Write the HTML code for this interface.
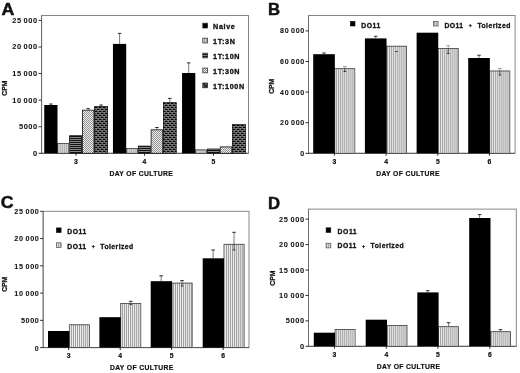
<!DOCTYPE html><html><head><meta charset="utf-8"><title>Figure</title><style>html,body{margin:0;padding:0;background:#fff;}body{width:520px;height:373px;overflow:hidden}svg{display:block}text{font-family:"Liberation Sans", sans-serif;font-weight:bold;fill:#111}</style></head><body>
<svg width="520" height="373" viewBox="0 0 520 373">

<defs>
<pattern id="vs" width="2" height="4" patternUnits="userSpaceOnUse"><rect width="2" height="4" fill="#e6e6e6"/><rect x="0.1" width="0.8" height="4" fill="#777"/></pattern>
<pattern id="vsl" width="2" height="4" patternUnits="userSpaceOnUse"><rect width="2" height="4" fill="#dcdcdc"/><rect x="0.2" width="0.7" height="4" fill="#8a8a8a"/></pattern>
<pattern id="p3" width="2.4" height="4" patternUnits="userSpaceOnUse"><rect width="2.4" height="4" fill="#d4d4d4"/><rect x="0" width="0.6" height="4" fill="#888"/></pattern>
<pattern id="p10" width="4" height="2" patternUnits="userSpaceOnUse"><rect width="4" height="2" fill="#bbb"/><rect y="0" width="4" height="1.3" fill="#111"/></pattern>
<pattern id="p30" width="2" height="2" patternUnits="userSpaceOnUse"><rect width="2" height="2" fill="#f0f0f0"/><rect width="1" height="1" fill="#909090"/><rect x="1" y="1" width="1" height="1" fill="#909090"/></pattern>
<pattern id="p100" width="4.2" height="4.14" patternUnits="userSpaceOnUse"><rect width="4.2" height="4.14" fill="#a8a8a8"/><rect x="0.4" y="0.25" width="3.5" height="1.6" fill="#050505"/><rect x="2.5" y="2.32" width="1.7" height="1.6" fill="#050505"/><rect x="0" y="2.32" width="1.8" height="1.6" fill="#050505"/></pattern>
</defs>

<rect width="520" height="373" fill="#fff"/>
<filter id="soft" x="0" y="0" width="100%" height="100%" filterUnits="userSpaceOnUse" color-interpolation-filters="sRGB"><feGaussianBlur stdDeviation="0.3"/></filter>
<g filter="url(#soft)">
<rect x="41.6" y="15.45" width="206.9" height="137.85000000000002" fill="none" stroke="#7a7a7a" stroke-width="0.9"/>
<path d="M41.6 15.45V153.3" stroke="#666" stroke-width="0.8" fill="none"/>
<path d="M41.2 153.3H248.5" stroke="#444" stroke-width="0.8" fill="none"/>
<path d="M38.6 153.30H41.6" stroke="#222" stroke-width="0.95"/>
<text transform="translate(37.85 155.8) scale(1.14 1)" font-size="6.5" text-anchor="end" letter-spacing="0.55" stroke="#111" stroke-width="0.05" word-spacing="-0.6">0</text>
<path d="M38.6 126.72H41.6" stroke="#222" stroke-width="0.95"/>
<text transform="translate(37.85 129.22000000000003) scale(1.14 1)" font-size="6.5" text-anchor="end" letter-spacing="0.55" stroke="#111" stroke-width="0.05" word-spacing="-0.6">5000</text>
<path d="M38.6 100.14H41.6" stroke="#222" stroke-width="0.95"/>
<text transform="translate(37.85 102.64000000000001) scale(1.14 1)" font-size="6.5" text-anchor="end" letter-spacing="0.55" stroke="#111" stroke-width="0.05" word-spacing="-0.6">10 000</text>
<path d="M38.6 73.56H41.6" stroke="#222" stroke-width="0.95"/>
<text transform="translate(37.85 76.06000000000002) scale(1.14 1)" font-size="6.5" text-anchor="end" letter-spacing="0.55" stroke="#111" stroke-width="0.05" word-spacing="-0.6">15 000</text>
<path d="M38.6 46.98H41.6" stroke="#222" stroke-width="0.95"/>
<text transform="translate(37.85 49.48000000000002) scale(1.14 1)" font-size="6.5" text-anchor="end" letter-spacing="0.55" stroke="#111" stroke-width="0.05" word-spacing="-0.6">20 000</text>
<path d="M38.6 20.40H41.6" stroke="#222" stroke-width="0.95"/>
<text transform="translate(37.85 22.900000000000034) scale(1.14 1)" font-size="6.5" text-anchor="end" letter-spacing="0.55" stroke="#111" stroke-width="0.05" word-spacing="-0.6">25 000</text>
<path d="M101.10 105.00V106.10" stroke="#333" stroke-width="0.65" fill="none"/>
<path d="M99.30 105.00H102.90" stroke="#1a1a1a" stroke-width="0.9" fill="none"/>
<rect x="94.40" y="106.10" width="13.40" height="47.20" fill="#767676"/>
<path d="M97.55 106.60H98.65V108.35H97.55zM101.55 106.60H102.65V108.35H101.55zM105.55 106.60H106.65V108.35H105.55zM95.55 108.45H96.65V110.35H95.55zM99.55 108.45H100.65V110.35H99.55zM103.55 108.45H104.65V110.35H103.55zM97.55 110.45H98.65V112.35H97.55zM101.55 110.45H102.65V112.35H101.55zM105.55 110.45H106.65V112.35H105.55zM95.55 112.45H96.65V114.35H95.55zM99.55 112.45H100.65V114.35H99.55zM103.55 112.45H104.65V114.35H103.55zM97.55 114.45H98.65V116.35H97.55zM101.55 114.45H102.65V116.35H101.55zM105.55 114.45H106.65V116.35H105.55zM95.55 116.45H96.65V118.35H95.55zM99.55 116.45H100.65V118.35H99.55zM103.55 116.45H104.65V118.35H103.55zM97.55 118.45H98.65V120.35H97.55zM101.55 118.45H102.65V120.35H101.55zM105.55 118.45H106.65V120.35H105.55zM95.55 120.45H96.65V122.35H95.55zM99.55 120.45H100.65V122.35H99.55zM103.55 120.45H104.65V122.35H103.55zM97.55 122.45H98.65V124.35H97.55zM101.55 122.45H102.65V124.35H101.55zM105.55 122.45H106.65V124.35H105.55zM95.55 124.45H96.65V126.35H95.55zM99.55 124.45H100.65V126.35H99.55zM103.55 124.45H104.65V126.35H103.55zM97.55 126.45H98.65V128.35H97.55zM101.55 126.45H102.65V128.35H101.55zM105.55 126.45H106.65V128.35H105.55zM95.55 128.45H96.65V130.35H95.55zM99.55 128.45H100.65V130.35H99.55zM103.55 128.45H104.65V130.35H103.55zM97.55 130.45H98.65V132.35H97.55zM101.55 130.45H102.65V132.35H101.55zM105.55 130.45H106.65V132.35H105.55zM95.55 132.45H96.65V134.35H95.55zM99.55 132.45H100.65V134.35H99.55zM103.55 132.45H104.65V134.35H103.55zM97.55 134.45H98.65V136.35H97.55zM101.55 134.45H102.65V136.35H101.55zM105.55 134.45H106.65V136.35H105.55zM95.55 136.45H96.65V138.35H95.55zM99.55 136.45H100.65V138.35H99.55zM103.55 136.45H104.65V138.35H103.55zM97.55 138.45H98.65V140.35H97.55zM101.55 138.45H102.65V140.35H101.55zM105.55 138.45H106.65V140.35H105.55zM95.55 140.45H96.65V142.35H95.55zM99.55 140.45H100.65V142.35H99.55zM103.55 140.45H104.65V142.35H103.55zM97.55 142.45H98.65V144.35H97.55zM101.55 142.45H102.65V144.35H101.55zM105.55 142.45H106.65V144.35H105.55zM95.55 144.45H96.65V146.35H95.55zM99.55 144.45H100.65V146.35H99.55zM103.55 144.45H104.65V146.35H103.55zM97.55 146.45H98.65V148.35H97.55zM101.55 146.45H102.65V148.35H101.55zM105.55 146.45H106.65V148.35H105.55zM95.55 148.45H96.65V150.35H95.55zM99.55 148.45H100.65V150.35H99.55zM103.55 148.45H104.65V150.35H103.55zM97.55 150.45H98.65V152.35H97.55zM101.55 150.45H102.65V152.35H101.55zM105.55 150.45H106.65V152.35H105.55zM95.55 152.45H96.65V153.30H95.55zM99.55 152.45H100.65V153.30H99.55zM103.55 152.45H104.65V153.30H103.55z" fill="#e0e0e0"/>
<path d="M94.55 106.73H97.65V108.08H94.55zM98.55 106.73H101.65V108.08H98.55zM102.55 106.73H105.65V108.08H102.55zM106.55 106.73H107.80V108.08H106.55zM94.40 108.73H95.65V110.08H94.40zM96.55 108.73H99.65V110.08H96.55zM100.55 108.73H103.65V110.08H100.55zM104.55 108.73H107.65V110.08H104.55zM94.55 110.73H97.65V112.08H94.55zM98.55 110.73H101.65V112.08H98.55zM102.55 110.73H105.65V112.08H102.55zM106.55 110.73H107.80V112.08H106.55zM94.40 112.73H95.65V114.08H94.40zM96.55 112.73H99.65V114.08H96.55zM100.55 112.73H103.65V114.08H100.55zM104.55 112.73H107.65V114.08H104.55zM94.55 114.73H97.65V116.08H94.55zM98.55 114.73H101.65V116.08H98.55zM102.55 114.73H105.65V116.08H102.55zM106.55 114.73H107.80V116.08H106.55zM94.40 116.73H95.65V118.08H94.40zM96.55 116.73H99.65V118.08H96.55zM100.55 116.73H103.65V118.08H100.55zM104.55 116.73H107.65V118.08H104.55zM94.55 118.73H97.65V120.08H94.55zM98.55 118.73H101.65V120.08H98.55zM102.55 118.73H105.65V120.08H102.55zM106.55 118.73H107.80V120.08H106.55zM94.40 120.73H95.65V122.08H94.40zM96.55 120.73H99.65V122.08H96.55zM100.55 120.73H103.65V122.08H100.55zM104.55 120.73H107.65V122.08H104.55zM94.55 122.73H97.65V124.08H94.55zM98.55 122.73H101.65V124.08H98.55zM102.55 122.73H105.65V124.08H102.55zM106.55 122.73H107.80V124.08H106.55zM94.40 124.73H95.65V126.08H94.40zM96.55 124.73H99.65V126.08H96.55zM100.55 124.73H103.65V126.08H100.55zM104.55 124.73H107.65V126.08H104.55zM94.55 126.73H97.65V128.08H94.55zM98.55 126.73H101.65V128.08H98.55zM102.55 126.73H105.65V128.08H102.55zM106.55 126.73H107.80V128.08H106.55zM94.40 128.72H95.65V130.08H94.40zM96.55 128.72H99.65V130.08H96.55zM100.55 128.72H103.65V130.08H100.55zM104.55 128.72H107.65V130.08H104.55zM94.55 130.72H97.65V132.08H94.55zM98.55 130.72H101.65V132.08H98.55zM102.55 130.72H105.65V132.08H102.55zM106.55 130.72H107.80V132.08H106.55zM94.40 132.72H95.65V134.08H94.40zM96.55 132.72H99.65V134.08H96.55zM100.55 132.72H103.65V134.08H100.55zM104.55 132.72H107.65V134.08H104.55zM94.55 134.72H97.65V136.08H94.55zM98.55 134.72H101.65V136.08H98.55zM102.55 134.72H105.65V136.08H102.55zM106.55 134.72H107.80V136.08H106.55zM94.40 136.72H95.65V138.08H94.40zM96.55 136.72H99.65V138.08H96.55zM100.55 136.72H103.65V138.08H100.55zM104.55 136.72H107.65V138.08H104.55zM94.55 138.72H97.65V140.08H94.55zM98.55 138.72H101.65V140.08H98.55zM102.55 138.72H105.65V140.08H102.55zM106.55 138.72H107.80V140.08H106.55zM94.40 140.72H95.65V142.08H94.40zM96.55 140.72H99.65V142.08H96.55zM100.55 140.72H103.65V142.08H100.55zM104.55 140.72H107.65V142.08H104.55zM94.55 142.72H97.65V144.08H94.55zM98.55 142.72H101.65V144.08H98.55zM102.55 142.72H105.65V144.08H102.55zM106.55 142.72H107.80V144.08H106.55zM94.40 144.72H95.65V146.08H94.40zM96.55 144.72H99.65V146.08H96.55zM100.55 144.72H103.65V146.08H100.55zM104.55 144.72H107.65V146.08H104.55zM94.55 146.72H97.65V148.08H94.55zM98.55 146.72H101.65V148.08H98.55zM102.55 146.72H105.65V148.08H102.55zM106.55 146.72H107.80V148.08H106.55zM94.40 148.72H95.65V150.08H94.40zM96.55 148.72H99.65V150.08H96.55zM100.55 148.72H103.65V150.08H100.55zM104.55 148.72H107.65V150.08H104.55zM94.55 150.72H97.65V152.08H94.55zM98.55 150.72H101.65V152.08H98.55zM102.55 150.72H105.65V152.08H102.55zM106.55 150.72H107.80V152.08H106.55zM94.40 152.72H95.65V153.30H94.40zM96.55 152.72H99.65V153.30H96.55zM100.55 152.72H103.65V153.30H100.55zM104.55 152.72H107.65V153.30H104.55z" fill="#000"/>
<rect x="94.70" y="106.40" width="12.80" height="46.90" fill="none" stroke="#111" stroke-width="0.6"/>
<path d="M88.20 108.60V109.80" stroke="#333" stroke-width="0.65" fill="none"/>
<path d="M86.40 108.60H90.00" stroke="#1a1a1a" stroke-width="0.9" fill="none"/>
<rect x="82.40" y="110.20" width="11.60" height="43.10" fill="url(#p30)" stroke="#111" stroke-width="0.8"/>
<rect x="69.60" y="135.70" width="12.00" height="17.60" fill="url(#p10)" stroke="#111" stroke-width="0.8"/>
<rect x="57.20" y="143.20" width="12.00" height="10.10" fill="#d4d4d4"/>
<path d="M58.20 143.20V153.30M60.30 143.20V153.30M62.40 143.20V153.30M64.50 143.20V153.30M66.60 143.20V153.30" stroke="#8c8c8c" stroke-width="0.5" fill="none"/>
<rect x="57.60" y="143.60" width="11.20" height="9.70" fill="none" stroke="#333" stroke-width="0.75"/>
<path d="M50.90 104.00V105.00" stroke="#333" stroke-width="0.65" fill="none"/>
<path d="M49.10 104.00H52.70" stroke="#1a1a1a" stroke-width="0.9" fill="none"/>
<rect x="44.25" y="105.00" width="13.25" height="48.30" fill="#000"/>
<path d="M169.80 98.40V102.40" stroke="#333" stroke-width="0.65" fill="none"/>
<path d="M168.00 98.40H171.60" stroke="#1a1a1a" stroke-width="0.9" fill="none"/>
<rect x="163.10" y="102.40" width="13.40" height="50.90" fill="#767676"/>
<path d="M165.55 102.90H166.65V104.35H165.55zM169.55 102.90H170.65V104.35H169.55zM173.55 102.90H174.65V104.35H173.55zM163.60 104.45H164.65V106.35H163.60zM167.55 104.45H168.65V106.35H167.55zM171.55 104.45H172.65V106.35H171.55zM175.55 104.45H176.00V106.35H175.55zM165.55 106.45H166.65V108.35H165.55zM169.55 106.45H170.65V108.35H169.55zM173.55 106.45H174.65V108.35H173.55zM163.60 108.45H164.65V110.35H163.60zM167.55 108.45H168.65V110.35H167.55zM171.55 108.45H172.65V110.35H171.55zM175.55 108.45H176.00V110.35H175.55zM165.55 110.45H166.65V112.35H165.55zM169.55 110.45H170.65V112.35H169.55zM173.55 110.45H174.65V112.35H173.55zM163.60 112.45H164.65V114.35H163.60zM167.55 112.45H168.65V114.35H167.55zM171.55 112.45H172.65V114.35H171.55zM175.55 112.45H176.00V114.35H175.55zM165.55 114.45H166.65V116.35H165.55zM169.55 114.45H170.65V116.35H169.55zM173.55 114.45H174.65V116.35H173.55zM163.60 116.45H164.65V118.35H163.60zM167.55 116.45H168.65V118.35H167.55zM171.55 116.45H172.65V118.35H171.55zM175.55 116.45H176.00V118.35H175.55zM165.55 118.45H166.65V120.35H165.55zM169.55 118.45H170.65V120.35H169.55zM173.55 118.45H174.65V120.35H173.55zM163.60 120.45H164.65V122.35H163.60zM167.55 120.45H168.65V122.35H167.55zM171.55 120.45H172.65V122.35H171.55zM175.55 120.45H176.00V122.35H175.55zM165.55 122.45H166.65V124.35H165.55zM169.55 122.45H170.65V124.35H169.55zM173.55 122.45H174.65V124.35H173.55zM163.60 124.45H164.65V126.35H163.60zM167.55 124.45H168.65V126.35H167.55zM171.55 124.45H172.65V126.35H171.55zM175.55 124.45H176.00V126.35H175.55zM165.55 126.45H166.65V128.35H165.55zM169.55 126.45H170.65V128.35H169.55zM173.55 126.45H174.65V128.35H173.55zM163.60 128.45H164.65V130.35H163.60zM167.55 128.45H168.65V130.35H167.55zM171.55 128.45H172.65V130.35H171.55zM175.55 128.45H176.00V130.35H175.55zM165.55 130.45H166.65V132.35H165.55zM169.55 130.45H170.65V132.35H169.55zM173.55 130.45H174.65V132.35H173.55zM163.60 132.45H164.65V134.35H163.60zM167.55 132.45H168.65V134.35H167.55zM171.55 132.45H172.65V134.35H171.55zM175.55 132.45H176.00V134.35H175.55zM165.55 134.45H166.65V136.35H165.55zM169.55 134.45H170.65V136.35H169.55zM173.55 134.45H174.65V136.35H173.55zM163.60 136.45H164.65V138.35H163.60zM167.55 136.45H168.65V138.35H167.55zM171.55 136.45H172.65V138.35H171.55zM175.55 136.45H176.00V138.35H175.55zM165.55 138.45H166.65V140.35H165.55zM169.55 138.45H170.65V140.35H169.55zM173.55 138.45H174.65V140.35H173.55zM163.60 140.45H164.65V142.35H163.60zM167.55 140.45H168.65V142.35H167.55zM171.55 140.45H172.65V142.35H171.55zM175.55 140.45H176.00V142.35H175.55zM165.55 142.45H166.65V144.35H165.55zM169.55 142.45H170.65V144.35H169.55zM173.55 142.45H174.65V144.35H173.55zM163.60 144.45H164.65V146.35H163.60zM167.55 144.45H168.65V146.35H167.55zM171.55 144.45H172.65V146.35H171.55zM175.55 144.45H176.00V146.35H175.55zM165.55 146.45H166.65V148.35H165.55zM169.55 146.45H170.65V148.35H169.55zM173.55 146.45H174.65V148.35H173.55zM163.60 148.45H164.65V150.35H163.60zM167.55 148.45H168.65V150.35H167.55zM171.55 148.45H172.65V150.35H171.55zM175.55 148.45H176.00V150.35H175.55zM165.55 150.45H166.65V152.35H165.55zM169.55 150.45H170.65V152.35H169.55zM173.55 150.45H174.65V152.35H173.55zM163.60 152.45H164.65V153.30H163.60zM167.55 152.45H168.65V153.30H167.55zM171.55 152.45H172.65V153.30H171.55zM175.55 152.45H176.00V153.30H175.55z" fill="#e0e0e0"/>
<path d="M163.10 102.73H165.65V104.08H163.10zM166.55 102.73H169.65V104.08H166.55zM170.55 102.73H173.65V104.08H170.55zM174.55 102.73H176.50V104.08H174.55zM163.10 104.73H163.65V106.08H163.10zM164.55 104.73H167.65V106.08H164.55zM168.55 104.73H171.65V106.08H168.55zM172.55 104.73H175.65V106.08H172.55zM163.10 106.73H165.65V108.08H163.10zM166.55 106.73H169.65V108.08H166.55zM170.55 106.73H173.65V108.08H170.55zM174.55 106.73H176.50V108.08H174.55zM163.10 108.73H163.65V110.08H163.10zM164.55 108.73H167.65V110.08H164.55zM168.55 108.73H171.65V110.08H168.55zM172.55 108.73H175.65V110.08H172.55zM163.10 110.73H165.65V112.08H163.10zM166.55 110.73H169.65V112.08H166.55zM170.55 110.73H173.65V112.08H170.55zM174.55 110.73H176.50V112.08H174.55zM163.10 112.73H163.65V114.08H163.10zM164.55 112.73H167.65V114.08H164.55zM168.55 112.73H171.65V114.08H168.55zM172.55 112.73H175.65V114.08H172.55zM163.10 114.73H165.65V116.08H163.10zM166.55 114.73H169.65V116.08H166.55zM170.55 114.73H173.65V116.08H170.55zM174.55 114.73H176.50V116.08H174.55zM163.10 116.73H163.65V118.08H163.10zM164.55 116.73H167.65V118.08H164.55zM168.55 116.73H171.65V118.08H168.55zM172.55 116.73H175.65V118.08H172.55zM163.10 118.73H165.65V120.08H163.10zM166.55 118.73H169.65V120.08H166.55zM170.55 118.73H173.65V120.08H170.55zM174.55 118.73H176.50V120.08H174.55zM163.10 120.73H163.65V122.08H163.10zM164.55 120.73H167.65V122.08H164.55zM168.55 120.73H171.65V122.08H168.55zM172.55 120.73H175.65V122.08H172.55zM163.10 122.73H165.65V124.08H163.10zM166.55 122.73H169.65V124.08H166.55zM170.55 122.73H173.65V124.08H170.55zM174.55 122.73H176.50V124.08H174.55zM163.10 124.73H163.65V126.08H163.10zM164.55 124.73H167.65V126.08H164.55zM168.55 124.73H171.65V126.08H168.55zM172.55 124.73H175.65V126.08H172.55zM163.10 126.73H165.65V128.08H163.10zM166.55 126.73H169.65V128.08H166.55zM170.55 126.73H173.65V128.08H170.55zM174.55 126.73H176.50V128.08H174.55zM163.10 128.72H163.65V130.08H163.10zM164.55 128.72H167.65V130.08H164.55zM168.55 128.72H171.65V130.08H168.55zM172.55 128.72H175.65V130.08H172.55zM163.10 130.72H165.65V132.08H163.10zM166.55 130.72H169.65V132.08H166.55zM170.55 130.72H173.65V132.08H170.55zM174.55 130.72H176.50V132.08H174.55zM163.10 132.72H163.65V134.08H163.10zM164.55 132.72H167.65V134.08H164.55zM168.55 132.72H171.65V134.08H168.55zM172.55 132.72H175.65V134.08H172.55zM163.10 134.72H165.65V136.08H163.10zM166.55 134.72H169.65V136.08H166.55zM170.55 134.72H173.65V136.08H170.55zM174.55 134.72H176.50V136.08H174.55zM163.10 136.72H163.65V138.08H163.10zM164.55 136.72H167.65V138.08H164.55zM168.55 136.72H171.65V138.08H168.55zM172.55 136.72H175.65V138.08H172.55zM163.10 138.72H165.65V140.08H163.10zM166.55 138.72H169.65V140.08H166.55zM170.55 138.72H173.65V140.08H170.55zM174.55 138.72H176.50V140.08H174.55zM163.10 140.72H163.65V142.08H163.10zM164.55 140.72H167.65V142.08H164.55zM168.55 140.72H171.65V142.08H168.55zM172.55 140.72H175.65V142.08H172.55zM163.10 142.72H165.65V144.08H163.10zM166.55 142.72H169.65V144.08H166.55zM170.55 142.72H173.65V144.08H170.55zM174.55 142.72H176.50V144.08H174.55zM163.10 144.72H163.65V146.08H163.10zM164.55 144.72H167.65V146.08H164.55zM168.55 144.72H171.65V146.08H168.55zM172.55 144.72H175.65V146.08H172.55zM163.10 146.72H165.65V148.08H163.10zM166.55 146.72H169.65V148.08H166.55zM170.55 146.72H173.65V148.08H170.55zM174.55 146.72H176.50V148.08H174.55zM163.10 148.72H163.65V150.08H163.10zM164.55 148.72H167.65V150.08H164.55zM168.55 148.72H171.65V150.08H168.55zM172.55 148.72H175.65V150.08H172.55zM163.10 150.72H165.65V152.08H163.10zM166.55 150.72H169.65V152.08H166.55zM170.55 150.72H173.65V152.08H170.55zM174.55 150.72H176.50V152.08H174.55zM163.10 152.72H163.65V153.30H163.10zM164.55 152.72H167.65V153.30H164.55zM168.55 152.72H171.65V153.30H168.55zM172.55 152.72H175.65V153.30H172.55z" fill="#000"/>
<rect x="163.40" y="102.70" width="12.80" height="50.60" fill="none" stroke="#111" stroke-width="0.6"/>
<path d="M156.90 127.50V129.40" stroke="#333" stroke-width="0.65" fill="none"/>
<path d="M155.10 127.50H158.70" stroke="#1a1a1a" stroke-width="0.9" fill="none"/>
<rect x="151.10" y="129.80" width="11.60" height="23.50" fill="url(#p30)" stroke="#111" stroke-width="0.8"/>
<rect x="138.30" y="146.10" width="12.00" height="7.20" fill="url(#p10)" stroke="#111" stroke-width="0.8"/>
<rect x="125.90" y="148.20" width="12.00" height="5.10" fill="#d4d4d4"/>
<path d="M127.50 148.20V153.30M129.60 148.20V153.30M131.70 148.20V153.30M133.80 148.20V153.30M135.90 148.20V153.30" stroke="#8c8c8c" stroke-width="0.5" fill="none"/>
<rect x="126.30" y="148.60" width="11.20" height="4.70" fill="none" stroke="#333" stroke-width="0.75"/>
<path d="M119.60 33.40V43.90" stroke="#333" stroke-width="0.65" fill="none"/>
<path d="M117.80 33.40H121.40" stroke="#1a1a1a" stroke-width="0.9" fill="none"/>
<rect x="112.95" y="43.90" width="13.25" height="109.40" fill="#000"/>
<rect x="232.20" y="124.30" width="13.40" height="29.00" fill="#767676"/>
<path d="M235.55 124.80H236.65V126.35H235.55zM239.55 124.80H240.65V126.35H239.55zM243.55 124.80H244.65V126.35H243.55zM233.55 126.45H234.65V128.35H233.55zM237.55 126.45H238.65V128.35H237.55zM241.55 126.45H242.65V128.35H241.55zM235.55 128.45H236.65V130.35H235.55zM239.55 128.45H240.65V130.35H239.55zM243.55 128.45H244.65V130.35H243.55zM233.55 130.45H234.65V132.35H233.55zM237.55 130.45H238.65V132.35H237.55zM241.55 130.45H242.65V132.35H241.55zM235.55 132.45H236.65V134.35H235.55zM239.55 132.45H240.65V134.35H239.55zM243.55 132.45H244.65V134.35H243.55zM233.55 134.45H234.65V136.35H233.55zM237.55 134.45H238.65V136.35H237.55zM241.55 134.45H242.65V136.35H241.55zM235.55 136.45H236.65V138.35H235.55zM239.55 136.45H240.65V138.35H239.55zM243.55 136.45H244.65V138.35H243.55zM233.55 138.45H234.65V140.35H233.55zM237.55 138.45H238.65V140.35H237.55zM241.55 138.45H242.65V140.35H241.55zM235.55 140.45H236.65V142.35H235.55zM239.55 140.45H240.65V142.35H239.55zM243.55 140.45H244.65V142.35H243.55zM233.55 142.45H234.65V144.35H233.55zM237.55 142.45H238.65V144.35H237.55zM241.55 142.45H242.65V144.35H241.55zM235.55 144.45H236.65V146.35H235.55zM239.55 144.45H240.65V146.35H239.55zM243.55 144.45H244.65V146.35H243.55zM233.55 146.45H234.65V148.35H233.55zM237.55 146.45H238.65V148.35H237.55zM241.55 146.45H242.65V148.35H241.55zM235.55 148.45H236.65V150.35H235.55zM239.55 148.45H240.65V150.35H239.55zM243.55 148.45H244.65V150.35H243.55zM233.55 150.45H234.65V152.35H233.55zM237.55 150.45H238.65V152.35H237.55zM241.55 150.45H242.65V152.35H241.55zM235.55 152.45H236.65V153.30H235.55zM239.55 152.45H240.65V153.30H239.55zM243.55 152.45H244.65V153.30H243.55z" fill="#e0e0e0"/>
<path d="M232.55 124.73H235.65V126.08H232.55zM236.55 124.73H239.65V126.08H236.55zM240.55 124.73H243.65V126.08H240.55zM244.55 124.73H245.60V126.08H244.55zM232.20 126.73H233.65V128.08H232.20zM234.55 126.73H237.65V128.08H234.55zM238.55 126.73H241.65V128.08H238.55zM242.55 126.73H245.60V128.08H242.55zM232.55 128.72H235.65V130.08H232.55zM236.55 128.72H239.65V130.08H236.55zM240.55 128.72H243.65V130.08H240.55zM244.55 128.72H245.60V130.08H244.55zM232.20 130.72H233.65V132.08H232.20zM234.55 130.72H237.65V132.08H234.55zM238.55 130.72H241.65V132.08H238.55zM242.55 130.72H245.60V132.08H242.55zM232.55 132.72H235.65V134.08H232.55zM236.55 132.72H239.65V134.08H236.55zM240.55 132.72H243.65V134.08H240.55zM244.55 132.72H245.60V134.08H244.55zM232.20 134.72H233.65V136.08H232.20zM234.55 134.72H237.65V136.08H234.55zM238.55 134.72H241.65V136.08H238.55zM242.55 134.72H245.60V136.08H242.55zM232.55 136.72H235.65V138.08H232.55zM236.55 136.72H239.65V138.08H236.55zM240.55 136.72H243.65V138.08H240.55zM244.55 136.72H245.60V138.08H244.55zM232.20 138.72H233.65V140.08H232.20zM234.55 138.72H237.65V140.08H234.55zM238.55 138.72H241.65V140.08H238.55zM242.55 138.72H245.60V140.08H242.55zM232.55 140.72H235.65V142.08H232.55zM236.55 140.72H239.65V142.08H236.55zM240.55 140.72H243.65V142.08H240.55zM244.55 140.72H245.60V142.08H244.55zM232.20 142.72H233.65V144.08H232.20zM234.55 142.72H237.65V144.08H234.55zM238.55 142.72H241.65V144.08H238.55zM242.55 142.72H245.60V144.08H242.55zM232.55 144.72H235.65V146.08H232.55zM236.55 144.72H239.65V146.08H236.55zM240.55 144.72H243.65V146.08H240.55zM244.55 144.72H245.60V146.08H244.55zM232.20 146.72H233.65V148.08H232.20zM234.55 146.72H237.65V148.08H234.55zM238.55 146.72H241.65V148.08H238.55zM242.55 146.72H245.60V148.08H242.55zM232.55 148.72H235.65V150.08H232.55zM236.55 148.72H239.65V150.08H236.55zM240.55 148.72H243.65V150.08H240.55zM244.55 148.72H245.60V150.08H244.55zM232.20 150.72H233.65V152.08H232.20zM234.55 150.72H237.65V152.08H234.55zM238.55 150.72H241.65V152.08H238.55zM242.55 150.72H245.60V152.08H242.55zM232.55 152.72H235.65V153.30H232.55zM236.55 152.72H239.65V153.30H236.55zM240.55 152.72H243.65V153.30H240.55zM244.55 152.72H245.60V153.30H244.55z" fill="#000"/>
<rect x="232.50" y="124.60" width="12.80" height="28.70" fill="none" stroke="#111" stroke-width="0.6"/>
<rect x="220.20" y="146.90" width="11.60" height="6.40" fill="url(#p30)" stroke="#111" stroke-width="0.8"/>
<rect x="207.40" y="149.00" width="12.00" height="4.30" fill="url(#p10)" stroke="#111" stroke-width="0.8"/>
<rect x="195.00" y="149.50" width="12.00" height="3.80" fill="#d4d4d4"/>
<path d="M196.80 149.50V153.30M198.90 149.50V153.30M201.00 149.50V153.30M203.10 149.50V153.30M205.20 149.50V153.30" stroke="#8c8c8c" stroke-width="0.5" fill="none"/>
<rect x="195.40" y="149.90" width="11.20" height="3.40" fill="none" stroke="#333" stroke-width="0.75"/>
<path d="M188.70 62.90V73.00" stroke="#333" stroke-width="0.65" fill="none"/>
<path d="M186.90 62.90H190.50" stroke="#1a1a1a" stroke-width="0.9" fill="none"/>
<rect x="182.05" y="73.00" width="13.25" height="80.30" fill="#000"/>
<path d="M76.00 153.3V155.70000000000002" stroke="#222" stroke-width="0.95"/>
<text transform="translate(76 163.9) scale(1.0 1)" font-size="6.8" text-anchor="middle" letter-spacing="0" stroke="#111" stroke-width="0.2" >3</text>
<path d="M144.50 153.3V155.70000000000002" stroke="#222" stroke-width="0.95"/>
<text transform="translate(144.5 163.9) scale(1.0 1)" font-size="6.8" text-anchor="middle" letter-spacing="0" stroke="#111" stroke-width="0.2" >4</text>
<path d="M213.50 153.3V155.70000000000002" stroke="#222" stroke-width="0.95"/>
<text transform="translate(213.5 163.9) scale(1.0 1)" font-size="6.8" text-anchor="middle" letter-spacing="0" stroke="#111" stroke-width="0.2" >5</text>
<text transform="translate(141.3 176.1) scale(1.0 1)" font-size="6.8" text-anchor="middle" letter-spacing="0.35" stroke="#111" stroke-width="0.2" >DAY OF CULTURE</text>
<text transform="translate(7.2 88.1) rotate(-90) scale(0.96 1)" font-size="7.1" text-anchor="middle" letter-spacing="0" stroke="#111" stroke-width="0.25">CPM</text>
<text transform="translate(1.5 15.3) scale(1.11 1)" font-size="16" text-anchor="start" letter-spacing="0" stroke="#111" stroke-width="0.45" >A</text>
<rect x="202.8" y="23.20" width="4.8" height="4.8" fill="#000" stroke="#222" stroke-width="0.7"/>
<text transform="translate(213.1 28.8) scale(1.06 1)" font-size="6.8" text-anchor="start" letter-spacing="0.6" stroke="#111" stroke-width="0.3" >Naive</text>
<rect x="202.8" y="38.15" width="4.8" height="4.8" fill="url(#p3)" stroke="#222" stroke-width="0.7"/>
<text transform="translate(213.1 43.75) scale(1.06 1)" font-size="6.8" text-anchor="start" letter-spacing="0.6" stroke="#111" stroke-width="0.3" >1T:3N</text>
<rect x="202.8" y="53.10" width="4.8" height="4.8" fill="url(#p10)" stroke="#222" stroke-width="0.7"/>
<text transform="translate(213.1 58.7) scale(1.06 1)" font-size="6.8" text-anchor="start" letter-spacing="0.6" stroke="#111" stroke-width="0.3" >1T:10N</text>
<rect x="202.8" y="68.05" width="4.8" height="4.8" fill="url(#p30)" stroke="#222" stroke-width="0.7"/>
<text transform="translate(213.1 73.64999999999999) scale(1.06 1)" font-size="6.8" text-anchor="start" letter-spacing="0.6" stroke="#111" stroke-width="0.3" >1T:30N</text>
<rect x="202.8" y="83.00" width="4.8" height="4.8" fill="url(#p100)" stroke="#222" stroke-width="0.7"/>
<text transform="translate(213.1 88.60000000000001) scale(1.06 1)" font-size="6.8" text-anchor="start" letter-spacing="0.6" stroke="#111" stroke-width="0.3" >1T:100N</text>
<rect x="308.5" y="15.45" width="206.60000000000002" height="137.85000000000002" fill="none" stroke="#7a7a7a" stroke-width="0.9"/>
<path d="M308.5 15.45V153.3" stroke="#666" stroke-width="0.8" fill="none"/>
<path d="M308.1 153.3H515.1" stroke="#444" stroke-width="0.8" fill="none"/>
<path d="M305.5 153.30H308.5" stroke="#222" stroke-width="0.95"/>
<text transform="translate(304.75 155.8) scale(1.0924999999999998 1)" font-size="6.5" text-anchor="end" letter-spacing="0.55" stroke="#111" stroke-width="0.05" word-spacing="-0.6">0</text>
<path d="M305.5 122.70H308.5" stroke="#222" stroke-width="0.95"/>
<text transform="translate(304.75 125.20000000000002) scale(1.0924999999999998 1)" font-size="6.5" text-anchor="end" letter-spacing="0.55" stroke="#111" stroke-width="0.05" word-spacing="-0.6">20 000</text>
<path d="M305.5 92.10H308.5" stroke="#222" stroke-width="0.95"/>
<text transform="translate(304.75 94.60000000000001) scale(1.0924999999999998 1)" font-size="6.5" text-anchor="end" letter-spacing="0.55" stroke="#111" stroke-width="0.05" word-spacing="-0.6">40 000</text>
<path d="M305.5 61.50H308.5" stroke="#222" stroke-width="0.95"/>
<text transform="translate(304.75 64.0) scale(1.0924999999999998 1)" font-size="6.5" text-anchor="end" letter-spacing="0.55" stroke="#111" stroke-width="0.05" word-spacing="-0.6">60 000</text>
<path d="M305.5 30.90H308.5" stroke="#222" stroke-width="0.95"/>
<text transform="translate(304.75 33.400000000000006) scale(1.0924999999999998 1)" font-size="6.5" text-anchor="end" letter-spacing="0.55" stroke="#111" stroke-width="0.05" word-spacing="-0.6">80 000</text>
<path d="M324.00 53.00V54.20" stroke="#333" stroke-width="0.65" fill="none"/>
<path d="M322.20 53.00H325.80" stroke="#1a1a1a" stroke-width="0.9" fill="none"/>
<rect x="334.40" y="68.30" width="20.80" height="85.00" fill="#efefef"/>
<path d="M336.60 68.30V153.30M338.64 68.30V153.30M340.68 68.30V153.30M342.72 68.30V153.30M344.76 68.30V153.30M346.80 68.30V153.30M348.84 68.30V153.30M350.88 68.30V153.30M352.92 68.30V153.30" stroke="#868686" stroke-width="0.8" fill="none"/>
<rect x="334.80" y="68.70" width="20.00" height="84.60" fill="none" stroke="#3a3a3a" stroke-width="0.75"/>
<rect x="313.20" y="54.20" width="21.65" height="99.10" fill="#000"/>
<path d="M344.80 66.60V68.30" stroke="#999" stroke-width="0.65" fill="none"/>
<path d="M344.80 68.30V71.50" stroke="#333" stroke-width="0.8" fill="none"/>
<path d="M343.00 66.60H346.60" stroke="#8c8c8c" stroke-width="0.9" fill="none"/>
<path d="M343.50 71.50H346.10" stroke="#1a1a1a" stroke-width="0.8" fill="none"/>
<path d="M375.70 36.30V38.40" stroke="#333" stroke-width="0.65" fill="none"/>
<path d="M373.90 36.30H377.50" stroke="#1a1a1a" stroke-width="0.9" fill="none"/>
<rect x="386.10" y="45.80" width="20.80" height="107.50" fill="#efefef"/>
<path d="M387.60 45.80V153.30M389.64 45.80V153.30M391.68 45.80V153.30M393.72 45.80V153.30M395.76 45.80V153.30M397.80 45.80V153.30M399.84 45.80V153.30M401.88 45.80V153.30M403.92 45.80V153.30M405.96 45.80V153.30" stroke="#868686" stroke-width="0.8" fill="none"/>
<rect x="386.50" y="46.20" width="20.00" height="107.10" fill="none" stroke="#3a3a3a" stroke-width="0.75"/>
<rect x="364.90" y="38.40" width="21.65" height="114.90" fill="#000"/>
<path d="M395.20 51.5H397.80" stroke="#1a1a1a" stroke-width="0.8"/>
<rect x="437.80" y="48.10" width="20.80" height="105.20" fill="#efefef"/>
<path d="M440.64 48.10V153.30M442.68 48.10V153.30M444.72 48.10V153.30M446.76 48.10V153.30M448.80 48.10V153.30M450.84 48.10V153.30M452.88 48.10V153.30M454.92 48.10V153.30M456.96 48.10V153.30" stroke="#868686" stroke-width="0.8" fill="none"/>
<rect x="438.20" y="48.50" width="20.00" height="104.80" fill="none" stroke="#3a3a3a" stroke-width="0.75"/>
<rect x="416.60" y="32.70" width="21.65" height="120.60" fill="#000"/>
<path d="M448.20 45.80V48.10" stroke="#999" stroke-width="0.65" fill="none"/>
<path d="M448.20 48.10V53.50" stroke="#333" stroke-width="0.8" fill="none"/>
<path d="M446.40 45.80H450.00" stroke="#8c8c8c" stroke-width="0.9" fill="none"/>
<path d="M446.90 53.50H449.50" stroke="#1a1a1a" stroke-width="0.8" fill="none"/>
<path d="M479.00 55.20V58.00" stroke="#333" stroke-width="0.65" fill="none"/>
<path d="M477.20 55.20H480.80" stroke="#1a1a1a" stroke-width="0.9" fill="none"/>
<rect x="489.40" y="70.60" width="20.80" height="82.70" fill="#efefef"/>
<path d="M491.64 70.60V153.30M493.68 70.60V153.30M495.72 70.60V153.30M497.76 70.60V153.30M499.80 70.60V153.30M501.84 70.60V153.30M503.88 70.60V153.30M505.92 70.60V153.30M507.96 70.60V153.30" stroke="#868686" stroke-width="0.8" fill="none"/>
<rect x="489.80" y="71.00" width="20.00" height="82.30" fill="none" stroke="#3a3a3a" stroke-width="0.75"/>
<rect x="468.20" y="58.00" width="21.65" height="95.30" fill="#000"/>
<path d="M499.80 68.60V70.60" stroke="#999" stroke-width="0.65" fill="none"/>
<path d="M499.80 70.60V75.00" stroke="#333" stroke-width="0.8" fill="none"/>
<path d="M498.00 68.60H501.60" stroke="#8c8c8c" stroke-width="0.9" fill="none"/>
<path d="M498.50 75.00H501.10" stroke="#1a1a1a" stroke-width="0.8" fill="none"/>
<path d="M334.40 153.3V155.70000000000002" stroke="#222" stroke-width="0.95"/>
<text transform="translate(334.4 163.9) scale(1.0 1)" font-size="6.8" text-anchor="middle" letter-spacing="0" stroke="#111" stroke-width="0.2" >3</text>
<path d="M386.10 153.3V155.70000000000002" stroke="#222" stroke-width="0.95"/>
<text transform="translate(386.1 163.9) scale(1.0 1)" font-size="6.8" text-anchor="middle" letter-spacing="0" stroke="#111" stroke-width="0.2" >4</text>
<path d="M437.80 153.3V155.70000000000002" stroke="#222" stroke-width="0.95"/>
<text transform="translate(437.8 163.9) scale(1.0 1)" font-size="6.8" text-anchor="middle" letter-spacing="0" stroke="#111" stroke-width="0.2" >5</text>
<path d="M489.40 153.3V155.70000000000002" stroke="#222" stroke-width="0.95"/>
<text transform="translate(489.4 163.9) scale(1.0 1)" font-size="6.8" text-anchor="middle" letter-spacing="0" stroke="#111" stroke-width="0.2" >6</text>
<text transform="translate(408 176.1) scale(1.0 1)" font-size="6.8" text-anchor="middle" letter-spacing="0.35" stroke="#111" stroke-width="0.2" >DAY OF CULTURE</text>
<text transform="translate(274.3 86.3) rotate(-90) scale(0.96 1)" font-size="7.1" text-anchor="middle" letter-spacing="0" stroke="#111" stroke-width="0.25">CPM</text>
<text transform="translate(268.0 15.1) scale(1.02 1)" font-size="16.4" text-anchor="start" letter-spacing="0" stroke="#111" stroke-width="0.45" >B</text>
<rect x="350.3" y="21.4" width="4.7" height="4.6" fill="#000" stroke="#111" stroke-width="0.6"/>
<text transform="translate(361.3 27.5) scale(1.0 1)" font-size="6.8" text-anchor="start" letter-spacing="0.55" stroke="#111" stroke-width="0.3" >DO11</text>
<rect x="433.4" y="21.4" width="4.7" height="4.6" fill="url(#vsl)" stroke="#555" stroke-width="0.7"/>
<text transform="translate(444.4 27.5) scale(1.0 1)" font-size="6.8" text-anchor="start" letter-spacing="0.45" stroke="#111" stroke-width="0.3" >DO11 &#160;<tspan font-size="5.2" dx="0.5" dy="-0.65">+</tspan><tspan dx="0.5" dy="0.65"> &#160;Tolerized</tspan></text>
<rect x="43.15" y="211.3" width="205.85" height="136.3" fill="none" stroke="#7a7a7a" stroke-width="0.9"/>
<path d="M43.15 211.3V347.6" stroke="#666" stroke-width="0.8" fill="none"/>
<path d="M42.75 347.6H249.0" stroke="#444" stroke-width="0.8" fill="none"/>
<path d="M40.15 347.60H43.15" stroke="#222" stroke-width="0.95"/>
<text transform="translate(39.4 350.5) scale(1.1115 1)" font-size="6.5" text-anchor="end" letter-spacing="0.55" stroke="#111" stroke-width="0.05" word-spacing="-0.6">0</text>
<path d="M40.15 320.34H43.15" stroke="#222" stroke-width="0.95"/>
<text transform="translate(39.4 323.24) scale(1.1115 1)" font-size="6.5" text-anchor="end" letter-spacing="0.55" stroke="#111" stroke-width="0.05" word-spacing="-0.6">5000</text>
<path d="M40.15 293.08H43.15" stroke="#222" stroke-width="0.95"/>
<text transform="translate(39.4 295.98) scale(1.1115 1)" font-size="6.5" text-anchor="end" letter-spacing="0.55" stroke="#111" stroke-width="0.05" word-spacing="-0.6">10 000</text>
<path d="M40.15 265.82H43.15" stroke="#222" stroke-width="0.95"/>
<text transform="translate(39.4 268.72) scale(1.1115 1)" font-size="6.5" text-anchor="end" letter-spacing="0.55" stroke="#111" stroke-width="0.05" word-spacing="-0.6">15 000</text>
<path d="M40.15 238.56H43.15" stroke="#222" stroke-width="0.95"/>
<text transform="translate(39.4 241.46) scale(1.1115 1)" font-size="6.5" text-anchor="end" letter-spacing="0.55" stroke="#111" stroke-width="0.05" word-spacing="-0.6">20 000</text>
<path d="M40.15 211.30H43.15" stroke="#222" stroke-width="0.95"/>
<text transform="translate(39.4 214.20000000000002) scale(1.1115 1)" font-size="6.5" text-anchor="end" letter-spacing="0.55" stroke="#111" stroke-width="0.05" word-spacing="-0.6">25 000</text>
<rect x="68.90" y="324.40" width="20.90" height="23.20" fill="#efefef"/>
<path d="M71.40 324.40V347.60M73.44 324.40V347.60M75.48 324.40V347.60M77.52 324.40V347.60M79.56 324.40V347.60M81.60 324.40V347.60M83.64 324.40V347.60M85.68 324.40V347.60M87.72 324.40V347.60" stroke="#868686" stroke-width="0.8" fill="none"/>
<rect x="69.30" y="324.80" width="20.10" height="22.80" fill="none" stroke="#3a3a3a" stroke-width="0.75"/>
<rect x="48.00" y="331.00" width="21.35" height="16.60" fill="#000"/>
<rect x="120.30" y="303.10" width="20.90" height="44.50" fill="#efefef"/>
<path d="M122.40 303.10V347.60M124.44 303.10V347.60M126.48 303.10V347.60M128.52 303.10V347.60M130.56 303.10V347.60M132.60 303.10V347.60M134.64 303.10V347.60M136.68 303.10V347.60M138.72 303.10V347.60" stroke="#868686" stroke-width="0.8" fill="none"/>
<rect x="120.70" y="303.50" width="20.10" height="44.10" fill="none" stroke="#3a3a3a" stroke-width="0.75"/>
<rect x="99.40" y="317.20" width="21.35" height="30.40" fill="#000"/>
<path d="M130.75 301.30V304.60" stroke="#333" stroke-width="0.65" fill="none"/>
<path d="M128.95 301.30H132.55" stroke="#1a1a1a" stroke-width="0.9" fill="none"/>
<path d="M129.45 304.60H132.05" stroke="#1a1a1a" stroke-width="0.8" fill="none"/>
<path d="M161.15 275.80V281.20" stroke="#333" stroke-width="0.65" fill="none"/>
<path d="M159.35 275.80H162.95" stroke="#1a1a1a" stroke-width="0.9" fill="none"/>
<rect x="171.60" y="282.70" width="20.90" height="64.90" fill="#efefef"/>
<path d="M173.40 282.70V347.60M175.44 282.70V347.60M177.48 282.70V347.60M179.52 282.70V347.60M181.56 282.70V347.60M183.60 282.70V347.60M185.64 282.70V347.60M187.68 282.70V347.60M189.72 282.70V347.60M191.76 282.70V347.60" stroke="#868686" stroke-width="0.8" fill="none"/>
<rect x="172.00" y="283.10" width="20.10" height="64.50" fill="none" stroke="#3a3a3a" stroke-width="0.75"/>
<rect x="150.70" y="281.20" width="21.35" height="66.40" fill="#000"/>
<path d="M182.05 280.60V286.00" stroke="#333" stroke-width="0.65" fill="none"/>
<path d="M180.25 280.60H183.85" stroke="#1a1a1a" stroke-width="0.9" fill="none"/>
<path d="M180.75 286.00H183.35" stroke="#1a1a1a" stroke-width="0.8" fill="none"/>
<path d="M213.15 250.00V258.30" stroke="#333" stroke-width="0.65" fill="none"/>
<path d="M211.35 250.00H214.95" stroke="#1a1a1a" stroke-width="0.9" fill="none"/>
<rect x="223.60" y="243.90" width="20.90" height="103.70" fill="#efefef"/>
<path d="M226.44 243.90V347.60M228.48 243.90V347.60M230.52 243.90V347.60M232.56 243.90V347.60M234.60 243.90V347.60M236.64 243.90V347.60M238.68 243.90V347.60M240.72 243.90V347.60M242.76 243.90V347.60" stroke="#868686" stroke-width="0.8" fill="none"/>
<rect x="224.00" y="244.30" width="20.10" height="103.30" fill="none" stroke="#3a3a3a" stroke-width="0.75"/>
<rect x="202.70" y="258.30" width="21.35" height="89.30" fill="#000"/>
<path d="M234.05 232.30V250.00" stroke="#333" stroke-width="0.65" fill="none"/>
<path d="M232.25 232.30H235.85" stroke="#1a1a1a" stroke-width="0.9" fill="none"/>
<path d="M232.75 250.00H235.35" stroke="#1a1a1a" stroke-width="0.8" fill="none"/>
<path d="M68.60 347.6V350.0" stroke="#222" stroke-width="0.95"/>
<text transform="translate(68.6 358.0) scale(1.0 1)" font-size="6.8" text-anchor="middle" letter-spacing="0" stroke="#111" stroke-width="0.2" >3</text>
<path d="M120.20 347.6V350.0" stroke="#222" stroke-width="0.95"/>
<text transform="translate(120.2 358.0) scale(1.0 1)" font-size="6.8" text-anchor="middle" letter-spacing="0" stroke="#111" stroke-width="0.2" >4</text>
<path d="M171.60 347.6V350.0" stroke="#222" stroke-width="0.95"/>
<text transform="translate(171.6 358.0) scale(1.0 1)" font-size="6.8" text-anchor="middle" letter-spacing="0" stroke="#111" stroke-width="0.2" >5</text>
<path d="M223.20 347.6V350.0" stroke="#222" stroke-width="0.95"/>
<text transform="translate(223.2 358.0) scale(1.0 1)" font-size="6.8" text-anchor="middle" letter-spacing="0" stroke="#111" stroke-width="0.2" >6</text>
<text transform="translate(141.8 370.0) scale(1.0 1)" font-size="6.8" text-anchor="middle" letter-spacing="0.35" stroke="#111" stroke-width="0.2" >DAY OF CULTURE</text>
<text transform="translate(7.2 284.3) rotate(-90) scale(0.96 1)" font-size="7.1" text-anchor="middle" letter-spacing="0" stroke="#111" stroke-width="0.25">CPM</text>
<text transform="translate(0.7 208.1) scale(1.06 1)" font-size="16.8" text-anchor="start" letter-spacing="0" stroke="#111" stroke-width="0.45" >C</text>
<rect x="56.4" y="227.9" width="4.7" height="4.7" fill="#000" stroke="#111" stroke-width="0.6"/>
<text transform="translate(67.3 234.2) scale(1.0 1)" font-size="6.8" text-anchor="start" letter-spacing="0.55" stroke="#111" stroke-width="0.3" >DO11</text>
<rect x="56.4" y="242.8" width="4.7" height="4.7" fill="url(#vsl)" stroke="#555" stroke-width="0.7"/>
<text transform="translate(67.3 248.8) scale(1.0 1)" font-size="6.8" text-anchor="start" letter-spacing="0.45" stroke="#111" stroke-width="0.3" >DO11 &#160;<tspan font-size="5.2" dx="0.5" dy="-0.65">+</tspan><tspan dx="0.5" dy="0.65"> &#160;Tolerized</tspan></text>
<rect x="308.5" y="209.1" width="207.79999999999995" height="137.20000000000002" fill="none" stroke="#7a7a7a" stroke-width="0.9"/>
<path d="M308.5 209.1V346.3" stroke="#666" stroke-width="0.8" fill="none"/>
<path d="M308.1 346.3H516.3" stroke="#444" stroke-width="0.8" fill="none"/>
<path d="M305.5 346.30H308.5" stroke="#222" stroke-width="0.95"/>
<text transform="translate(304.75 348.8) scale(1.14 1)" font-size="6.5" text-anchor="end" letter-spacing="0.55" stroke="#111" stroke-width="0.05" word-spacing="-0.6">0</text>
<path d="M305.5 320.87H308.5" stroke="#222" stroke-width="0.95"/>
<text transform="translate(304.75 323.37) scale(1.14 1)" font-size="6.5" text-anchor="end" letter-spacing="0.55" stroke="#111" stroke-width="0.05" word-spacing="-0.6">5000</text>
<path d="M305.5 295.44H308.5" stroke="#222" stroke-width="0.95"/>
<text transform="translate(304.75 297.94) scale(1.14 1)" font-size="6.5" text-anchor="end" letter-spacing="0.55" stroke="#111" stroke-width="0.05" word-spacing="-0.6">10 000</text>
<path d="M305.5 270.01H308.5" stroke="#222" stroke-width="0.95"/>
<text transform="translate(304.75 272.51) scale(1.14 1)" font-size="6.5" text-anchor="end" letter-spacing="0.55" stroke="#111" stroke-width="0.05" word-spacing="-0.6">15 000</text>
<path d="M305.5 244.58H308.5" stroke="#222" stroke-width="0.95"/>
<text transform="translate(304.75 247.08) scale(1.14 1)" font-size="6.5" text-anchor="end" letter-spacing="0.55" stroke="#111" stroke-width="0.05" word-spacing="-0.6">20 000</text>
<path d="M305.5 219.15H308.5" stroke="#222" stroke-width="0.95"/>
<text transform="translate(304.75 221.65) scale(1.14 1)" font-size="6.5" text-anchor="end" letter-spacing="0.55" stroke="#111" stroke-width="0.05" word-spacing="-0.6">25 000</text>
<rect x="334.65" y="329.10" width="20.85" height="17.20" fill="#efefef"/>
<path d="M336.60 329.10V346.30M338.64 329.10V346.30M340.68 329.10V346.30M342.72 329.10V346.30M344.76 329.10V346.30M346.80 329.10V346.30M348.84 329.10V346.30M350.88 329.10V346.30M352.92 329.10V346.30" stroke="#868686" stroke-width="0.8" fill="none"/>
<rect x="335.05" y="329.50" width="20.05" height="16.80" fill="none" stroke="#3a3a3a" stroke-width="0.75"/>
<rect x="313.80" y="332.70" width="21.30" height="13.60" fill="#000"/>
<rect x="386.55" y="325.20" width="20.85" height="21.10" fill="#efefef"/>
<path d="M387.60 325.20V346.30M389.64 325.20V346.30M391.68 325.20V346.30M393.72 325.20V346.30M395.76 325.20V346.30M397.80 325.20V346.30M399.84 325.20V346.30M401.88 325.20V346.30M403.92 325.20V346.30M405.96 325.20V346.30" stroke="#868686" stroke-width="0.8" fill="none"/>
<rect x="386.95" y="325.60" width="20.05" height="20.70" fill="none" stroke="#3a3a3a" stroke-width="0.75"/>
<rect x="365.70" y="319.70" width="21.30" height="26.60" fill="#000"/>
<path d="M427.73 290.70V292.40" stroke="#333" stroke-width="0.65" fill="none"/>
<path d="M425.93 290.70H429.53" stroke="#1a1a1a" stroke-width="0.9" fill="none"/>
<path d="M448.57 322.70V326.30" stroke="#333" stroke-width="0.65" fill="none"/>
<path d="M446.77 322.70H450.38" stroke="#1a1a1a" stroke-width="0.9" fill="none"/>
<rect x="438.15" y="326.30" width="20.85" height="20.00" fill="#efefef"/>
<path d="M440.64 326.30V346.30M442.68 326.30V346.30M444.72 326.30V346.30M446.76 326.30V346.30M448.80 326.30V346.30M450.84 326.30V346.30M452.88 326.30V346.30M454.92 326.30V346.30M456.96 326.30V346.30" stroke="#868686" stroke-width="0.8" fill="none"/>
<rect x="438.55" y="326.70" width="20.05" height="19.60" fill="none" stroke="#3a3a3a" stroke-width="0.75"/>
<rect x="417.30" y="292.40" width="21.30" height="53.90" fill="#000"/>
<path d="M479.62 214.60V218.00" stroke="#333" stroke-width="0.65" fill="none"/>
<path d="M477.82 214.60H481.43" stroke="#1a1a1a" stroke-width="0.9" fill="none"/>
<path d="M500.47 329.60V331.30" stroke="#333" stroke-width="0.65" fill="none"/>
<path d="M498.67 329.60H502.27" stroke="#1a1a1a" stroke-width="0.9" fill="none"/>
<rect x="490.05" y="331.30" width="20.85" height="15.00" fill="#efefef"/>
<path d="M491.64 331.30V346.30M493.68 331.30V346.30M495.72 331.30V346.30M497.76 331.30V346.30M499.80 331.30V346.30M501.84 331.30V346.30M503.88 331.30V346.30M505.92 331.30V346.30M507.96 331.30V346.30M510.00 331.30V346.30" stroke="#868686" stroke-width="0.8" fill="none"/>
<rect x="490.45" y="331.70" width="20.05" height="14.60" fill="none" stroke="#3a3a3a" stroke-width="0.75"/>
<rect x="469.20" y="218.00" width="21.30" height="128.30" fill="#000"/>
<path d="M334.40 346.3V348.7" stroke="#222" stroke-width="0.95"/>
<text transform="translate(334.4 357.0) scale(1.0 1)" font-size="6.8" text-anchor="middle" letter-spacing="0" stroke="#111" stroke-width="0.2" >3</text>
<path d="M386.30 346.3V348.7" stroke="#222" stroke-width="0.95"/>
<text transform="translate(386.3 357.0) scale(1.0 1)" font-size="6.8" text-anchor="middle" letter-spacing="0" stroke="#111" stroke-width="0.2" >4</text>
<path d="M437.90 346.3V348.7" stroke="#222" stroke-width="0.95"/>
<text transform="translate(437.9 357.0) scale(1.0 1)" font-size="6.8" text-anchor="middle" letter-spacing="0" stroke="#111" stroke-width="0.2" >5</text>
<path d="M489.80 346.3V348.7" stroke="#222" stroke-width="0.95"/>
<text transform="translate(489.8 357.0) scale(1.0 1)" font-size="6.8" text-anchor="middle" letter-spacing="0" stroke="#111" stroke-width="0.2" >6</text>
<text transform="translate(408.6 369.0) scale(1.0 1)" font-size="6.8" text-anchor="middle" letter-spacing="0.35" stroke="#111" stroke-width="0.2" >DAY OF CULTURE</text>
<text transform="translate(274.6 278.2) rotate(-90) scale(0.96 1)" font-size="7.1" text-anchor="middle" letter-spacing="0" stroke="#111" stroke-width="0.25">CPM</text>
<text transform="translate(268.1 208.5) scale(1.01 1)" font-size="16.6" text-anchor="start" letter-spacing="0" stroke="#111" stroke-width="0.45" >D</text>
<rect x="326.1" y="227.8" width="4.7" height="4.7" fill="#000" stroke="#111" stroke-width="0.6"/>
<text transform="translate(337.6 233.8) scale(1.0 1)" font-size="6.8" text-anchor="start" letter-spacing="0.55" stroke="#111" stroke-width="0.3" >DO11</text>
<rect x="326.1" y="243.2" width="4.7" height="4.7" fill="url(#vsl)" stroke="#555" stroke-width="0.7"/>
<text transform="translate(337.6 248.2) scale(1.0 1)" font-size="6.8" text-anchor="start" letter-spacing="0.45" stroke="#111" stroke-width="0.3" >DO11 &#160;<tspan font-size="5.2" dx="0.5" dy="-0.65">+</tspan><tspan dx="0.5" dy="0.65"> &#160;Tolerized</tspan></text>
</g></svg></body></html>
